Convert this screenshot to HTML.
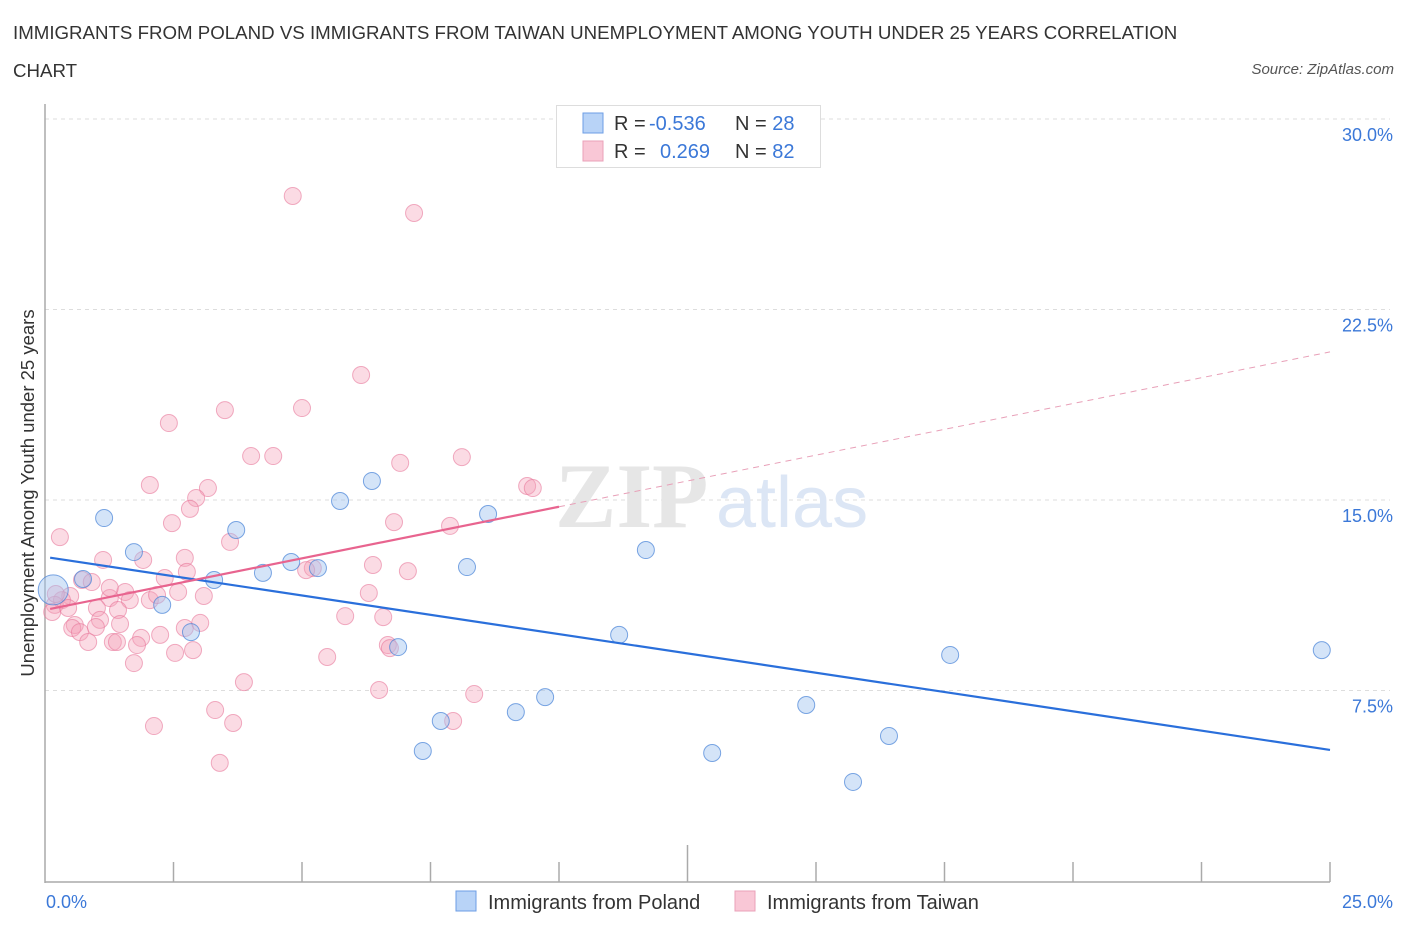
<!DOCTYPE html>
<html><head><meta charset="utf-8"><style>
body{margin:0;background:#fff;font-family:"Liberation Sans",sans-serif;}
#wrap{position:relative;width:1406px;height:930px;overflow:hidden;}
.t{position:absolute;white-space:nowrap;}
</style></head><body>
<div id="wrap">
<div class="t" style="left:13px;top:14px;font-size:18.7px;color:#333;line-height:38px;">IMMIGRANTS FROM POLAND VS IMMIGRANTS FROM TAIWAN UNEMPLOYMENT AMONG YOUTH UNDER 25 YEARS CORRELATION<br>CHART</div>
<div class="t" style="right:12px;top:61px;font-size:15px;font-style:italic;color:#555;">Source: ZipAtlas.com</div>
<svg id="svg" width="1406" height="930" style="position:absolute;left:0;top:0"></svg>
</div>
<script>
const yTicks=[7.5,15,22.5,30];
const yTickLabels=["7.5%","15.0%","22.5%","30.0%"];
const xTickLabels=["0.0%","25.0%"];
const polandX=[0.16,1.15,1.73,0.74,2.28,2.84,3.29,3.72,4.24,4.79,5.31,5.74,6.36,6.87,7.35,7.70,8.21,8.62,9.16,9.73,11.17,11.69,12.98,14.81,15.72,16.42,17.61,24.84];
const polandY=[11.46,14.29,12.95,11.89,10.87,9.80,11.85,13.82,12.13,12.56,12.32,14.96,15.75,9.21,5.12,6.30,12.36,14.45,6.65,7.24,9.69,13.03,5.04,6.93,3.90,5.71,8.90,9.09];
const taiwanX=[4.82,7.18,6.15,3.50,5.00,2.41,4.01,4.44,6.91,8.11,2.04,3.17,2.94,2.82,2.47,3.60,0.29,6.79,7.88,9.38,9.49,1.13,1.91,2.72,2.33,2.76,1.56,1.26,0.72,0.91,1.65,2.04,2.18,2.59,3.09,0.49,0.33,0.19,0.14,0.45,1.01,1.42,0.58,1.07,1.46,0.53,0.68,0.99,1.87,2.24,2.72,3.02,0.84,1.32,1.40,1.79,2.53,2.88,1.73,6.38,7.06,5.21,6.30,5.84,6.58,6.67,6.71,5.49,3.87,3.31,3.66,2.12,3.40,6.50,8.35,7.94,5.08,1.26,0.21];
const taiwanY=[26.97,26.30,19.92,18.54,18.62,18.03,16.73,16.73,16.46,16.69,15.59,15.47,15.08,14.65,14.09,13.35,13.54,14.13,13.98,15.55,15.47,12.64,12.64,12.72,11.93,12.17,11.38,11.14,11.85,11.77,11.06,11.06,11.26,11.38,11.22,11.22,11.06,10.87,10.59,10.75,10.75,10.67,10.08,10.28,10.12,9.96,9.80,10.00,9.57,9.69,9.96,10.16,9.41,9.41,9.41,9.29,8.98,9.09,8.58,12.44,12.20,12.32,11.34,10.43,10.39,9.29,9.17,8.82,7.83,6.73,6.22,6.10,4.65,7.52,7.36,6.30,12.24,11.54,11.30];
const polandTrend=[12.76,5.16];
const taiwanTrend=[10.67,20.83];
const x0=45,x1=1330,yBase=881,yTop=119;
const X=v=>x0+(v/25)*(x1-x0);
const Y=v=>yBase-(v/30)*(yBase-yTop);
const svg=document.getElementById('svg');
const NS='http://www.w3.org/2000/svg';
function mk(tag,attrs,parent){const e=document.createElementNS(NS,tag);for(const k in attrs)e.setAttribute(k,attrs[k]);(parent||svg).appendChild(e);return e;}
yTicks.forEach((v,i)=>{
 const g=mk('line',{x1:x0,x2:x1+60,y1:Y(v),y2:Y(v),stroke:'#ddd','stroke-dasharray':'4,4'});
 
 
 const t=mk('text',{x:1393,y:Y(v)+22,'text-anchor':'end','font-size':18,fill:'#3b78d8','font-family':'Liberation Sans'});
 t.textContent=yTickLabels[i];
 
 
});
const ya=mk('line',{x1:x0,x2:x0,y1:104,y2:883,stroke:'#aaa','stroke-width':1.5});


const xa=mk('line',{x1:x0,x2:x1,y1:882,y2:882,stroke:'#aaa','stroke-width':1.5});


for(let i=1;i<=10;i++){
 const tk=mk('line',{x1:X(i*2.5),x2:X(i*2.5),y1:i==5?845:862,y2:882,stroke:'#aaa','stroke-width':1.5});
 
 
}
[[0,'start',46],[1,'end',1393]].forEach(([i,a,xx])=>{
 const t=mk('text',{x:xx,y:908,'text-anchor':a,'font-size':18,fill:'#3b78d8','font-family':'Liberation Sans'});
 t.textContent=xTickLabels[i];
 
 
});
const wm=mk('text',{x:555,y:527,'font-size':92,fill:'#e6e6e6','font-family':'Liberation Serif','font-weight':'bold'});
wm.textContent='ZIP';


const wm2=mk('text',{x:716,y:527,'font-size':72,fill:'#dce6f5','font-family':'Liberation Sans'});
wm2.textContent='atlas';


taiwanX.forEach((v,i)=>{
 const c=mk('circle',{cx:X(v),cy:Y(taiwanY[i]),r:8.5,fill:'rgba(245,160,185,0.38)',stroke:'rgba(232,120,155,0.6)','stroke-width':1});
 
 
});
polandX.forEach((v,i)=>{
 const c=mk('circle',{cx:X(v),cy:Y(polandY[i]),r:i==0?15:8.5,fill:'rgba(160,195,240,0.45)',stroke:'rgba(70,130,215,0.7)','stroke-width':1});
 
 
});
const bl=mk('line',{x1:X(0.1),y1:Y(polandTrend[0]+(polandTrend[1]-polandTrend[0])*0.1/25),x2:X(25),y2:Y(polandTrend[1]),stroke:'#2a6fdb','stroke-width':2.2});


const tf=x=>taiwanTrend[0]+(taiwanTrend[1]-taiwanTrend[0])*x/25;
const pl=mk('line',{x1:X(0.1),y1:Y(tf(0.1)),x2:X(10),y2:Y(tf(10)),stroke:'#e8648f','stroke-width':2.2});


const pd=mk('line',{x1:X(10),y1:Y(tf(10)),x2:X(25),y2:Y(tf(25)),stroke:'#e8a0b8','stroke-width':1,'stroke-dasharray':'6,5'});


const yt=mk('text',{x:0,y:0,transform:'translate(34,493) rotate(-90)','text-anchor':'middle','font-size':18.5,fill:'#333','font-family':'Liberation Sans'});
yt.textContent='Unemployment Among Youth under 25 years';


const lg=mk('rect',{x:556.5,y:105.5,width:264,height:62,fill:'#fff',stroke:'#ddd'});


[[0,'#b8d3f7','#6d9ee5','-0.536','28'],[1,'#f9c7d6','#eaa0b8','0.269','82']].forEach(([i,f,s,r,n])=>{
 const y=123+i*28;
 const sq=mk('rect',{x:583,y:y-10,width:20,height:20,fill:f,stroke:s});
 
 
 const t=mk('text',{x:614,y:y+7,'font-size':20,fill:'#333','font-family':'Liberation Sans'});
 t.innerHTML='R = <tspan fill="#3b78d8" x="'+(i?660:649)+'">'+r+'</tspan><tspan x="735">N = </tspan><tspan fill="#3b78d8">'+n+'</tspan>';
 
 
});
[[456,'#b8d3f7','#6d9ee5','Immigrants from Poland'],[735,'#f9c7d6','#eaa0b8','Immigrants from Taiwan']].forEach(([x,f,s,l])=>{
 const sq=mk('rect',{x:x,y:891,width:20,height:20,fill:f,stroke:s});
 
 
 const t=mk('text',{x:x+32,y:909,'font-size':20,fill:'#333','font-family':'Liberation Sans'});
 t.textContent=l;
 
 
});
</script>
</body></html>
